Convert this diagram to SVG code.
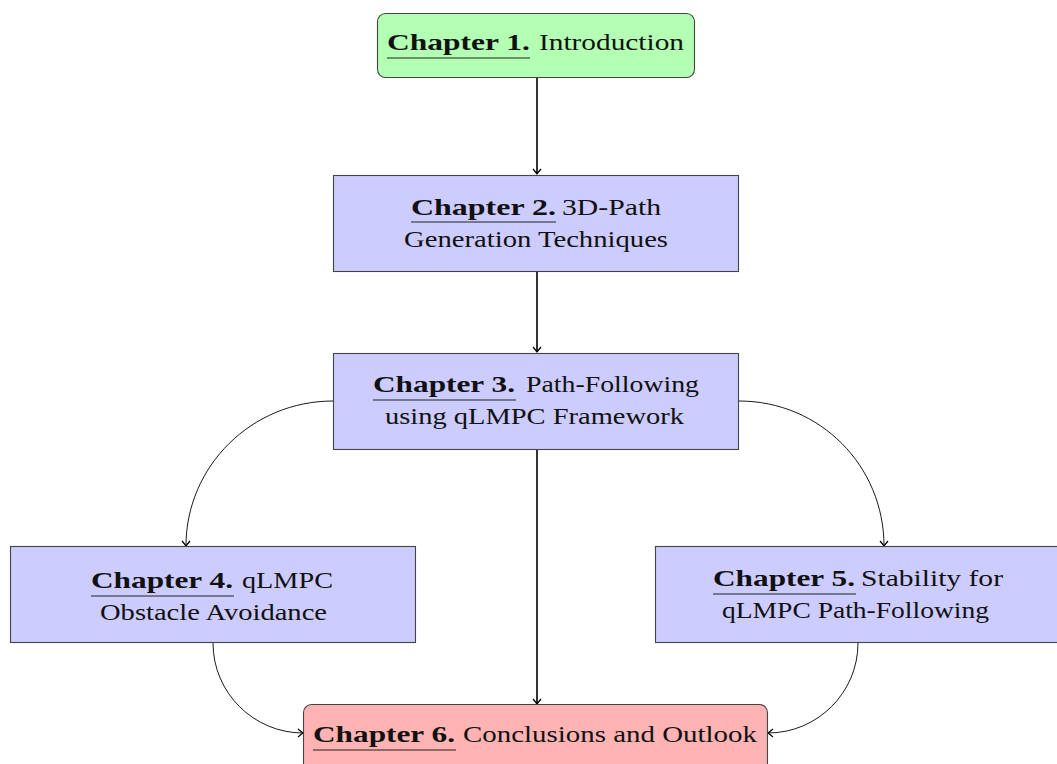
<svg xmlns="http://www.w3.org/2000/svg" width="1057" height="764" viewBox="0 0 1057 764">
<style>
  .box { stroke: #444; stroke-width: 1.1; }
  .green { fill: #b3ffb3; }
  .blue { fill: #ccccff; }
  .red { fill: #ffb3b3; }
  text { font-family: "Liberation Serif", "Times New Roman", serif; font-size: 23px; fill: #111; }
  .b { font-weight: bold; }
  .ul { stroke: #222; stroke-width: 1.1; }
  .thick { fill: none; stroke: #000; stroke-width: 1.6; }
  .thin { fill: none; stroke: #000; stroke-width: 0.9; }
</style>
<defs>
  <marker id="arr" viewBox="-6 -5 8 10" markerWidth="8" markerHeight="10" refX="0" refY="0" orient="auto" markerUnits="userSpaceOnUse">
    <path d="M -5,-4 Q -1.5,-1 0,0 Q -1.5,1 -5,4" fill="none" stroke="#000" stroke-width="1.2"/>
  </marker>
</defs>
<rect width="1057" height="764" fill="#fff"/>
<g id="connectors">
  <path class="thick" d="M537,78 L537,174" marker-end="url(#arr)"/>
  <path class="thick" d="M537,271 L537,352" marker-end="url(#arr)"/>
  <path class="thick" d="M537,449 L537,704" marker-end="url(#arr)"/>
  <path class="thin" d="M333,401 C252,401 186,466 186,546" marker-end="url(#arr)"/>
  <path class="thin" d="M739,401 C820,401 884,466 884,546" marker-end="url(#arr)"/>
  <path class="thin" d="M213,643 C213,693 254,733 303,733" marker-end="url(#arr)"/>
  <path class="thin" d="M858,643 C858,693 817,733 768,733" marker-end="url(#arr)"/>
</g>
<g id="ch1">
  <rect class="box green" x="377.5" y="13.5" width="317" height="64" rx="8"/>
  <text class="b" x="387" y="50" textLength="143" lengthAdjust="spacingAndGlyphs">Chapter 1.</text>
  <text x="539" y="50" textLength="145" lengthAdjust="spacingAndGlyphs">Introduction</text>
  <line class="ul" x1="387" y1="58" x2="530" y2="58"/>
</g>
<g id="ch2">
  <rect class="box blue" x="333.5" y="175.5" width="405" height="96"/>
  <text class="b" x="411" y="215" textLength="145" lengthAdjust="spacingAndGlyphs">Chapter 2.</text>
  <text x="562" y="215" textLength="99" lengthAdjust="spacingAndGlyphs">3D-Path</text>
  <line class="ul" x1="411" y1="222" x2="556" y2="222"/>
  <text x="404" y="247" textLength="264" lengthAdjust="spacingAndGlyphs">Generation Techniques</text>
</g>
<g id="ch3">
  <rect class="box blue" x="333.5" y="353.5" width="405" height="96"/>
  <text class="b" x="373" y="392" textLength="142" lengthAdjust="spacingAndGlyphs">Chapter 3.</text>
  <text x="526" y="392" textLength="173" lengthAdjust="spacingAndGlyphs">Path-Following</text>
  <line class="ul" x1="373" y1="400" x2="516" y2="400"/>
  <text x="385" y="424" textLength="299" lengthAdjust="spacingAndGlyphs">using qLMPC Framework</text>
</g>
<g id="ch4">
  <rect class="box blue" x="10.5" y="546.5" width="405" height="96"/>
  <text class="b" x="91" y="588" textLength="142" lengthAdjust="spacingAndGlyphs">Chapter 4.</text>
  <text x="242" y="588" textLength="91" lengthAdjust="spacingAndGlyphs">qLMPC</text>
  <line class="ul" x1="91" y1="596" x2="234" y2="596"/>
  <text x="100" y="620" textLength="227" lengthAdjust="spacingAndGlyphs">Obstacle Avoidance</text>
</g>
<g id="ch5">
  <rect class="box blue" x="655.5" y="546.5" width="406" height="96"/>
  <text class="b" x="713" y="586" textLength="142" lengthAdjust="spacingAndGlyphs">Chapter 5.</text>
  <text x="861" y="586" textLength="142" lengthAdjust="spacingAndGlyphs">Stability for</text>
  <line class="ul" x1="713" y1="594" x2="856" y2="594"/>
  <text x="722" y="618" textLength="267" lengthAdjust="spacingAndGlyphs">qLMPC Path-Following</text>
</g>
<g id="ch6">
  <rect class="box red" x="303.5" y="704.5" width="464" height="70" rx="8"/>
  <text class="b" x="313" y="742" textLength="142" lengthAdjust="spacingAndGlyphs">Chapter 6.</text>
  <text x="463" y="742" textLength="294" lengthAdjust="spacingAndGlyphs">Conclusions and Outlook</text>
  <line class="ul" x1="313" y1="750" x2="456" y2="750"/>
</g>
</svg>
